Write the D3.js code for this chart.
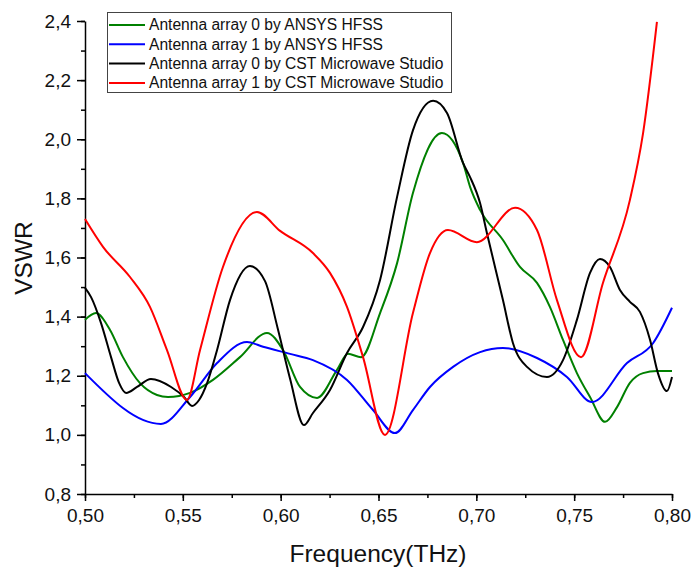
<!DOCTYPE html>
<html>
<head>
<meta charset="utf-8">
<script src="https://cdn.jsdelivr.net/npm/d3@7"></script>
<style>
  body { margin: 0; background: #fff; }
  text { font-family: Arial, "Liberation Sans", sans-serif; }
</style>
</head>
<body>
<svg id="chart" width="692" height="569"></svg>
<script>
// Series data (frequency in THz, VSWR)
var greenFreq = [0.500, 0.5056, 0.5128, 0.5194, 0.5281, 0.5368, 0.5424, 0.5537, 0.5654, 0.5792, 0.5930, 0.6012, 0.6099, 0.6186, 0.6288, 0.6344, 0.6411, 0.6508, 0.6595, 0.6676, 0.6824, 0.6932, 0.6968, 0.7019, 0.7136, 0.7223, 0.7310, 0.7376, 0.7443, 0.7514, 0.7581, 0.7658, 0.7719, 0.7785, 0.7852, 0.7923, 0.800];
var greenVswr = [1.389, 1.412, 1.355, 1.263, 1.175, 1.135, 1.128, 1.142, 1.186, 1.263, 1.345, 1.287, 1.162, 1.125, 1.220, 1.274, 1.263, 1.412, 1.581, 1.818, 2.021, 1.920, 1.839, 1.761, 1.659, 1.568, 1.514, 1.433, 1.321, 1.209, 1.128, 1.044, 1.094, 1.176, 1.209, 1.216, 1.216];

var blueFreq = [0.500, 0.5388, 0.5537, 0.5675, 0.5828, 0.5910, 0.6048, 0.6165, 0.6339, 0.6472, 0.6584, 0.6676, 0.6763, 0.6881, 0.7019, 0.7136, 0.7310, 0.7463, 0.7591, 0.7770, 0.7903, 0.800];
var blueVswr = [1.209, 1.037, 1.128, 1.243, 1.314, 1.298, 1.274, 1.253, 1.186, 1.084, 1.006, 1.084, 1.162, 1.230, 1.280, 1.294, 1.260, 1.196, 1.111, 1.243, 1.310, 1.430];

var blackFreq = [0.500, 0.5031, 0.5082, 0.5133, 0.5174, 0.5210, 0.5266, 0.5337, 0.5440, 0.5506, 0.5547, 0.5583, 0.5624, 0.5675, 0.5741, 0.5843, 0.5920, 0.5985, 0.6048, 0.6119, 0.6165, 0.6252, 0.6339, 0.6421, 0.6508, 0.6595, 0.6676, 0.6779, 0.6850, 0.6932, 0.6968, 0.7019, 0.7054, 0.7136, 0.7187, 0.7259, 0.7361, 0.7443, 0.7514, 0.7581, 0.7632, 0.7683, 0.7734, 0.7785, 0.7836, 0.7888, 0.7928, 0.7974, 0.800];
var blackVswr = [1.497, 1.466, 1.378, 1.263, 1.176, 1.142, 1.162, 1.189, 1.162, 1.128, 1.098, 1.118, 1.175, 1.287, 1.456, 1.571, 1.520, 1.360, 1.190, 1.033, 1.074, 1.152, 1.277, 1.365, 1.524, 1.805, 2.030, 2.130, 2.089, 1.920, 1.872, 1.784, 1.683, 1.456, 1.311, 1.230, 1.196, 1.253, 1.389, 1.548, 1.595, 1.568, 1.490, 1.450, 1.416, 1.321, 1.209, 1.148, 1.196];

var redFreq = [0.500, 0.5092, 0.5230, 0.5332, 0.5419, 0.5521, 0.5588, 0.5705, 0.5879, 0.5997, 0.6165, 0.6252, 0.6339, 0.6421, 0.6533, 0.6676, 0.6763, 0.6855, 0.7003, 0.7198, 0.7310, 0.7412, 0.7535, 0.7647, 0.7785, 0.7852, 0.7923];
var redVswr = [1.730, 1.636, 1.534, 1.433, 1.287, 1.118, 1.287, 1.568, 1.754, 1.690, 1.615, 1.548, 1.433, 1.263, 1.000, 1.412, 1.615, 1.693, 1.652, 1.768, 1.693, 1.456, 1.263, 1.514, 1.795, 2.020, 2.397];

var seriesNames = [
  "Antenna array 0 by ANSYS HFSS",
  "Antenna array 1 by ANSYS HFSS",
  "Antenna array 0 by CST Microwave Studio",
  "Antenna array 1 by CST Microwave Studio"
];
var seriesColors = ["#008000", "#0000ff", "#000000", "#ff0000"];

var xTicks = [0.50, 0.55, 0.60, 0.65, 0.70, 0.75, 0.80];
var yTicks = [0.8, 1.0, 1.2, 1.4, 1.6, 1.8, 2.0, 2.2, 2.4];

var svg = d3.select("#chart");

var xScale = d3.scaleLinear().domain([0.5, 0.8]).range([85, 672]);
var yScale = d3.scaleLinear().domain([0.8, 2.4]).range([494, 21]);

var comma = function(fmt) {
  var f = d3.format(fmt);
  return function(d) { return f(d).replace(".", ","); };
};

// Minor ticks
var xMinor = d3.range(0, 13).map(function(i) { return 0.5 + i * 0.025; });
var yMinor = d3.range(0, 17).map(function(i) { return 0.8 + i * 0.1; });

svg.append("g")
  .attr("transform", "translate(0,494)")
  .call(d3.axisBottom(xScale).tickValues(xMinor).tickSize(4).tickFormat(""))
  .call(function(g) { g.select(".domain").remove(); });
svg.append("g")
  .attr("transform", "translate(85,0)")
  .call(d3.axisLeft(yScale).tickValues(yMinor).tickSize(4).tickFormat(""))
  .call(function(g) { g.select(".domain").remove(); });

// Major axes
var xAxis = svg.append("g")
  .attr("transform", "translate(0,494)")
  .call(d3.axisBottom(xScale).tickValues(xTicks).tickSize(7).tickSizeOuter(0).tickPadding(8).tickFormat(comma(".2f")));
var yAxis = svg.append("g")
  .attr("transform", "translate(85,0)")
  .call(d3.axisLeft(yScale).tickValues(yTicks).tickSize(8).tickSizeOuter(0).tickPadding(6).tickFormat(comma(".1f")));

svg.selectAll(".tick line, .domain").attr("stroke", "#000").attr("stroke-width", 1.5);
xAxis.selectAll("text").attr("font-size", 19).attr("fill", "#111").attr("font-family", "Arial, 'Liberation Sans', sans-serif");
yAxis.selectAll("text").attr("font-size", 19).attr("fill", "#111").attr("font-family", "Arial, 'Liberation Sans', sans-serif");

// Axis titles
svg.append("text")
  .attr("x", 378)
  .attr("y", 562)
  .attr("text-anchor", "middle")
  .attr("font-size", 24.5)
  .attr("fill", "#111")
  .text("Frequency(THz)");
svg.append("text")
  .attr("transform", "translate(32,258) rotate(-90)")
  .attr("text-anchor", "middle")
  .attr("font-size", 24.5)
  .attr("fill", "#111")
  .text("VSWR");

// Lines
var series = [
  { f: greenFreq, v: greenVswr },
  { f: blueFreq, v: blueVswr },
  { f: blackFreq, v: blackVswr },
  { f: redFreq, v: redVswr }
];

var line = d3.line()
  .x(function(d) { return xScale(d[0]); })
  .y(function(d) { return yScale(d[1]); })
  .curve(d3.curveMonotoneX);

series.forEach(function(s, i) {
  var pts = s.f.map(function(f, j) { return [f, s.v[j]]; });
  svg.append("path")
    .datum(pts)
    .attr("fill", "none")
    .attr("stroke", seriesColors[i])
    .attr("stroke-width", 2)
    .attr("stroke-linejoin", "round")
    .attr("d", line);
});

// Legend
var legend = svg.append("g");
legend.append("rect")
  .attr("x", 107.5)
  .attr("y", 12.5)
  .attr("width", 344)
  .attr("height", 80)
  .attr("fill", "#fff")
  .attr("stroke", "#444")
  .attr("stroke-width", 1);

seriesNames.forEach(function(name, i) {
  var y = 25 + i * 19.3;
  legend.append("line")
    .attr("x1", 109).attr("x2", 145)
    .attr("y1", y).attr("y2", y)
    .attr("stroke", seriesColors[i])
    .attr("stroke-width", 2);
  legend.append("text")
    .attr("x", 149)
    .attr("y", y)
    .attr("dy", "0.35em")
    .attr("font-size", 15.6)
    .attr("fill", "#111")
    .text(name);
});
</script>
</body>
</html>
